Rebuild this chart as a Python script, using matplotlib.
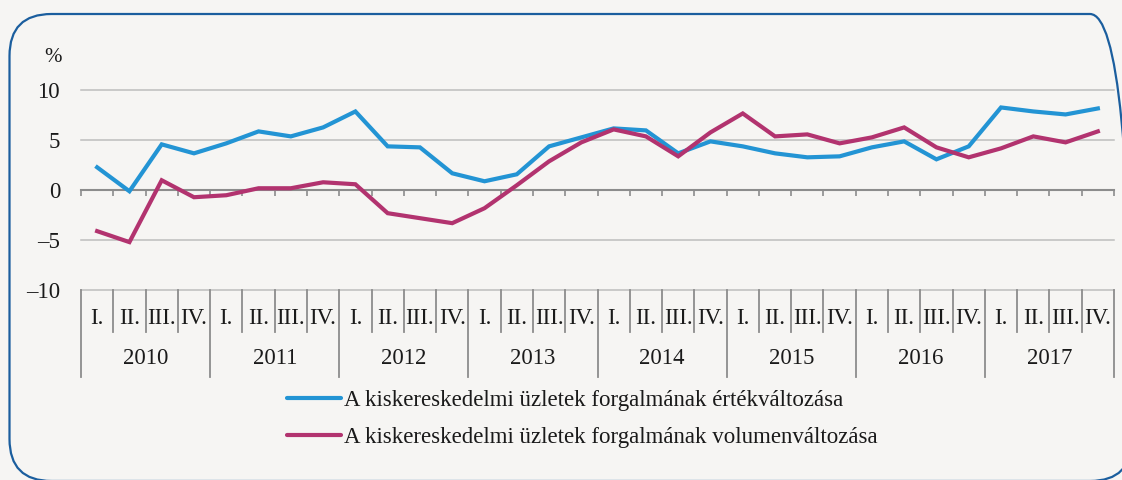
import matplotlib
matplotlib.use("Agg")
import matplotlib.pyplot as plt
from matplotlib.patches import FancyBboxPatch

years = ["2010", "2011", "2012", "2013", "2014", "2015", "2016", "2017"]
quarters = ["I.", "II.", "III.", "IV."]

value_change = [2.3, -0.1, 4.6, 3.7, 4.7, 5.9, 5.4, 6.3, 7.9, 4.4,
                4.3, 1.7, 0.9, 1.6, 4.4, 5.3, 6.2, 6.0, 3.7, 4.9,
                4.4, 3.7, 3.3, 3.4, 4.3, 4.9, 3.1, 4.4, 8.3, 7.9,
                7.6, 8.2]
volume_change = [-4.1, -5.2, 1.0, -0.7, -0.5, 0.2, 0.2, 0.8, 0.6, -2.3,
                 -2.8, -3.3, -1.8, 0.5, 2.9, 4.8, 6.1, 5.4, 3.4, 5.8,
                 7.7, 5.4, 5.6, 4.7, 5.3, 6.3, 4.3, 3.3, 4.2, 5.4,
                 4.8, 5.9]
series_labels = ["A kiskereskedelmi üzletek forgalmának értékváltozása",
                 "A kiskereskedelmi üzletek forgalmának volumenváltozása"]
yticks = [-10, -5, 0, 5, 10]

BG = "#f6f5f3"
BLUE = "#2394d4"
MAGENTA = "#b2336f"
FRAME = "#1b5e9e"
FONT = "Liberation Serif"
FS = 16.5

plt.rcParams["font.family"] = FONT

fig = plt.figure(figsize=(11.22, 4.8), dpi=100, facecolor=BG)

# rounded frame (inches)
frame = FancyBboxPatch((0.095, -0.01), 11.225, 4.67,
                       boxstyle="round,pad=0,rounding_size=0.42",
                       transform=fig.dpi_scale_trans, facecolor="none",
                       edgecolor=FRAME, linewidth=1.6)
fig.add_artist(frame)

W, H = 1122, 480
ax = fig.add_axes([81 / W, (H - 290) / H, 1033 / W, 199.5 / H])
ax.set_facecolor("none")

n = len(value_change)
xs = [i + 0.5 for i in range(n)]

# gridlines
for yv in yticks:
    if yv == 0:
        continue
    ax.axhline(yv, color="#bdbdbd", lw=1.1, zorder=1, clip_on=False)

l1, = ax.plot(xs, value_change, color=BLUE, lw=3.0, zorder=3,
              solid_joinstyle="miter", label=series_labels[0])
l2, = ax.plot(xs, volume_change, color=MAGENTA, lw=3.0, zorder=3,
              solid_joinstyle="miter", label=series_labels[1])

ax.set_xlim(0, n)
ax.set_ylim(-10, 10)

for s in ["top", "right", "left"]:
    ax.spines[s].set_visible(False)
ax.spines["bottom"].set_position(("data", 0))
ax.spines["bottom"].set_color("#8c8c8c")
ax.spines["bottom"].set_linewidth(1.5)
ax.spines["bottom"].set_zorder(2)
ax.set_xticks(range(n + 1))
ax.tick_params(axis="x", direction="out", length=4.5, width=1.2, color="#8c8c8c",
               labelbottom=False)
ax.set_yticks(yticks)
ax.set_yticklabels([str(v).replace("-", "\u2013") for v in yticks])
ax.tick_params(axis="y", length=0, pad=15, labelsize=FS, labelcolor="#1a1a1a")

# category axis
tr = ax.get_xaxis_transform()
ah = 199.5
qy = -(318 - 290) / ah
yy = -(359 - 290) / ah
qsep = -(332 - 290) / ah
ysep = -(377 - 290) / ah
for i in range(n):
    ax.text(i + 0.5, qy, quarters[i % 4], transform=tr, ha="center", va="center",
            fontsize=FS, color="#1a1a1a", clip_on=False)
for j, yr in enumerate(years):
    ax.text(j * 4 + 2, yy, yr, transform=tr, ha="center", va="center",
            fontsize=FS, color="#1a1a1a", clip_on=False)
for b in range(n + 1):
    bottom = ysep if b % 4 == 0 else qsep
    ax.plot([b, b], [0, bottom], transform=tr, color="#8c8c8c", lw=1.3,
            clip_on=False, zorder=2)

# % label
fig.text(53 / W, 1 - 57 / H, "%", ha="center", va="center", fontsize=FS - 1.5,
         color="#1a1a1a")

leg = fig.legend(handles=[l1, l2], loc="center left",
                 bbox_to_anchor=(287 / W, 1 - 419 / H), frameon=False,
                 fontsize=FS, handlelength=2.35, handletextpad=0.15,
                 labelspacing=0.68, borderpad=0, borderaxespad=0)
for t in leg.get_texts():
    t.set_color("#1a1a1a")
for h in leg.legend_handles:
    h.set_solid_capstyle("round")

fig.savefig("out.png", dpi=100, facecolor=BG)
